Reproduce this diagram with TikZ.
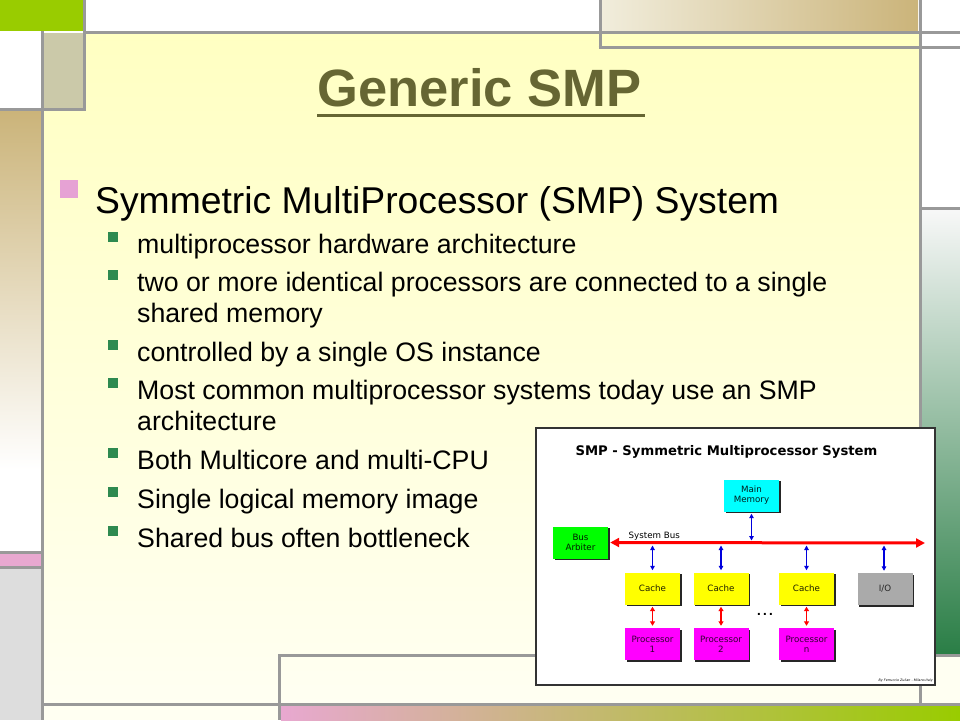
\documentclass[tikz,border=0pt]{standalone}
\usepackage{fontspec}
\setmainfont{Liberation Sans}
\newfontfamily\dejavu{DejaVu Sans}
\usetikzlibrary{arrows.meta,shadows}
\definecolor{panelTop}{HTML}{FFFFC2}
\definecolor{panelBot}{HTML}{FFFFF2}
\definecolor{lineGray}{HTML}{999999}
\definecolor{limeGreen}{HTML}{99CC00}
\definecolor{tanA}{HTML}{CBB47A}
\definecolor{tanLight}{HTML}{F1EDDC}
\definecolor{tanGray}{HTML}{CBC9A9}
\definecolor{pinkBand}{HTML}{E8A8D0}
\definecolor{lightGray}{HTML}{DDDDDD}
\definecolor{deepGreen}{HTML}{2A7E46}
\definecolor{titleCol}{HTML}{666633}
\definecolor{bulletPink}{HTML}{E6A2D4}
\definecolor{bulletGreen}{HTML}{2E8A50}
\definecolor{ioGray}{HTML}{AAAAAA}
\definecolor{memCyan}{HTML}{00FFFF}
\definecolor{arbGreen}{HTML}{00FF00}
\definecolor{cacheYellow}{HTML}{FFFF00}
\definecolor{procMagenta}{HTML}{FF00FF}
\definecolor{busRed}{HTML}{FF0000}
\definecolor{tapBlue}{HTML}{0000DD}
\begin{document}
\begin{tikzpicture}[x=1pt,y=-1pt,
  gline/.style={draw=lineGray, line width=3pt},
  l1text/.style={anchor=base west, inner sep=0pt, font=\fontsize{37.3}{44}\selectfont},
  l2text/.style={anchor=base west, inner sep=0pt, font=\fontsize{26.7}{32}\selectfont},
  sqgreen/.style={fill=bulletGreen},
  hwbox/.style={minimum width=55pt, minimum height=32pt, inner sep=0pt, align=center,
    font=\dejavu\fontsize{8.7}{10}\selectfont,
    drop shadow={shadow xshift=1.8pt, shadow yshift=-1.8pt, opacity=0.85, fill=black}},
  busarrow/.style={draw=busRed, line width=3pt, {Triangle[length=9pt,width=9pt]}-{Triangle[length=9pt,width=9pt]}},
  blarrow/.style={draw=tapBlue, line width=1.4pt, {Triangle[length=4.5pt,width=4.5pt]}-{Triangle[length=4.5pt,width=4.5pt]}},
  rdarrow/.style={draw=busRed, line width=1.8pt, {Triangle[length=4.5pt,width=5pt]}-{Triangle[length=4.5pt,width=5pt]}}
]
\useasboundingbox (0,0) rectangle (960,720);
\fill[white] (0,0) rectangle (960,720);
% main panel
\shade[top color=panelTop, bottom color=panelBot] (43,33) rectangle (920,705);
% top-left decorations
\fill[limeGreen] (0,0) rectangle (84,31);
\fill[tanGray] (44,33) rectangle (83,108);
% top-right tan gradient
\shade[left color=tanLight, right color=tanA] (601,0) rectangle (918,31);
% left tan gradient
\shade[top color=tanA, bottom color=white] (0,111) rectangle (41,470);
\fill[pinkBand] (0,554) rectangle (41,566);
\fill[lightGray] (0,569) rectangle (41,720);
% right side gradient
\shade[top color=white!97!black, bottom color=deepGreen] (922,210) rectangle (960,654);
\fill[panelBot] (922,657) rectangle (960,702.5);
% bottom band
\fill[panelBot] (44,706) rectangle (278,720);
\shade[left color=pinkBand, right color=limeGreen] (281,706) rectangle (960,720);
% grey frame lines
\draw[gline] (84.5,0) -- (84.5,111);
\draw[gline] (0,109.5) -- (86,109.5);
\draw[gline] (42.5,31) -- (42.5,720);
\draw[gline] (83,32.5) -- (960,32.5);
\draw[gline] (600,0) -- (600,48.5);
\draw[gline] (598.5,47) -- (960,47);
\draw[gline] (920,0) -- (920,705);
\draw[gline] (920,208.5) -- (960,208.5);
\draw[gline] (0,552.5) -- (44,552.5);
\draw[gline] (0,567.5) -- (44,567.5);
\draw[gline] (279.5,654) -- (279.5,720);
\draw[gline] (278,655.5) -- (960,655.5);
\draw[gline] (41,704.5) -- (960,704.5);
% title
\node[anchor=base, inner sep=0pt, text=titleCol, font=\bfseries\fontsize{52.5}{60}\selectfont] (title) at (479.5,106.5) {Generic SMP};
\draw[titleCol, line width=3pt] ([yshift=-9pt]title.base west) -- ([yshift=-9pt,xshift=3pt]title.base east);
% level-1 bullet
\fill[bulletPink] (60,180) rectangle (78,198);
\node[l1text] (l1) at (95,213) {Symmetric MultiProcessor (SMP) System};
% level-2 bullets
\fill[sqgreen] (108,232) rectangle (118,242);
\node[l2text] (b1) at (137,253) {multiprocessor hardware architecture};
\fill[sqgreen] (108,270) rectangle (118,280);
\node[l2text] (b2) at (137,291) {two or more identical processors are connected to a single};
\node[l2text] (b2b) at (137,322) {shared memory};
\fill[sqgreen] (108,340) rectangle (118,350);
\node[l2text] (b3) at (137,361) {controlled by a single OS instance};
\fill[sqgreen] (108,378) rectangle (118,388);
\node[l2text] (b4) at (137,399) {Most common multiprocessor systems today use an SMP};
\node[l2text] (b4b) at (137,430) {architecture};
\fill[sqgreen] (108,448) rectangle (118,458);
\node[l2text] (b5) at (137,469) {Both Multicore and multi-CPU};
\fill[sqgreen] (108,487) rectangle (118,497);
\node[l2text] (b6) at (137,508) {Single logical memory image};
\fill[sqgreen] (108,526) rectangle (118,536);
\node[l2text] (b7) at (137,547) {Shared bus often bottleneck};
% inset diagram
\draw[draw=black!80, line width=1.2pt, fill=white] (536,428) rectangle (935,685);
\node[anchor=base west, inner sep=0pt, font=\dejavu\bfseries\fontsize{13.2}{15}\selectfont] (dtitle) at (575.3,455) {SMP - Symmetric Multiprocessor System};
\node[hwbox, fill=memCyan, text=memCyan!12!black] (mem) at (751.5,495.5) {Main\\Memory};
\node[hwbox, fill=arbGreen, text=arbGreen!12!black] (arb) at (580.5,542.5) {Bus\\Arbiter};
\node[hwbox, fill=cacheYellow, text=cacheYellow!12!black] (c1) at (652.5,588.5) {Cache};
\node[hwbox, fill=cacheYellow, text=cacheYellow!12!black] (c2) at (721,588.5) {Cache};
\node[hwbox, fill=cacheYellow, text=cacheYellow!12!black] (cn) at (806.5,588.5) {Cache};
\node[hwbox, fill=ioGray, text=black!85] (io) at (885,589) {I/O};
\node[hwbox, fill=procMagenta, text=procMagenta!20!black] (p1) at (652.5,644) {Processor\\1};
\node[hwbox, fill=procMagenta, text=procMagenta!20!black] (p2) at (721,644) {Processor\\2};
\node[hwbox, fill=procMagenta, text=procMagenta!20!black] (pn) at (806.5,644) {Processor\\n};
\node[inner sep=0pt, font=\dejavu\bfseries\fontsize{11}{12}\selectfont] (dots) at (765,614) {.\,.\,.};
% system bus
\coordinate (busR) at (925,543);
\draw[busarrow] (arb.east) ++(2pt,0) coordinate (busL) (busL) -- (busR);
\node[anchor=base west, inner sep=0pt, font=\dejavu\fontsize{8.7}{10}\selectfont] (buslbl) at (628.5,538.5) {System Bus};
% taps on the bus
\coordinate (tm) at (751.5,540.5);
\coordinate (t1) at (652.5,545.5);
\coordinate (t2) at (721,545.5);
\coordinate (tn) at (806.5,545.5);
\coordinate (ti) at (884,545.5);
\draw[blarrow] ([yshift=-2pt]mem.south) -- (tm);
\draw[blarrow] (t1) -- ([yshift=2pt]c1.north);
\draw[blarrow] (t2) -- ([yshift=2pt]c2.north);
\draw[blarrow] (tn) -- ([yshift=2pt]cn.north);
\draw[blarrow] (ti) -- ([yshift=2pt,xshift=-1pt]io.north);
\draw[rdarrow] ([yshift=-2pt]c1.south) -- ([yshift=2pt]p1.north);
\draw[rdarrow] ([yshift=-2pt]c2.south) -- ([yshift=2pt]p2.north);
\draw[rdarrow] ([yshift=-2pt]cn.south) -- ([yshift=2pt]pn.north);
\node[anchor=base east, inner sep=0pt, font=\dejavu\itshape\fontsize{3.3}{4}\selectfont] (credit) at (933,681) {By Ferruccio Zulian - Milano.Italy};
\end{tikzpicture}
\end{document}
